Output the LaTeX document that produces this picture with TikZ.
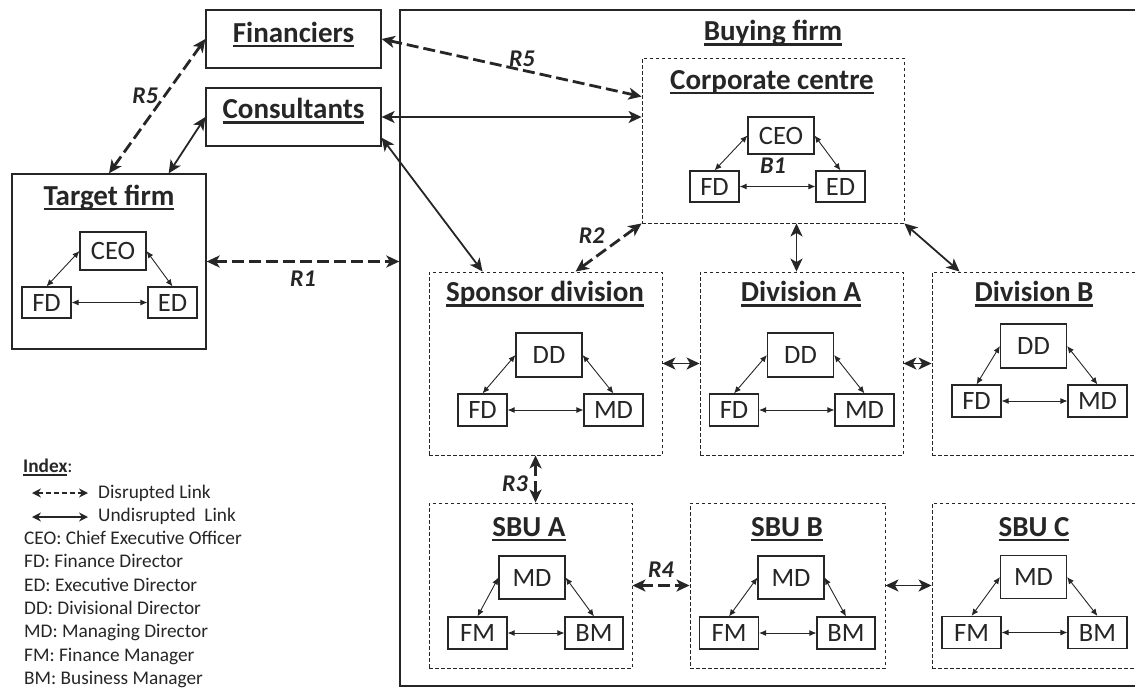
\documentclass[tikz,border=0pt]{standalone}
\usepackage{fontspec}
\setmainfont{Carlito}
\usetikzlibrary{arrows.meta, positioning, calc}
\newsavebox{\ulbox}
\newcommand{\uline}[2][5pt]{\sbox{\ulbox}{#2}\rlap{\rule[-#1]{\wd\ulbox}{0.075em}}\usebox{\ulbox}}

\begin{document}
\begin{tikzpicture}[
    x=1pt, y=-1pt, color=black!85,
    firmbox/.style={rectangle, draw, line width=1.3pt, inner sep=0pt},
    unitbox/.style={rectangle, draw, dash pattern=on 3.5pt off 2.5pt, line width=0.9pt, inner sep=0pt},
    heading/.style={font=\fontsize{29}{34}\selectfont\bfseries, inner sep=0pt},
    rolebox/.style={rectangle, draw, line width=1.1pt, fill=white, minimum width=49pt, minimum height=31pt, inner sep=0pt, font=\fontsize{26.5}{30}\selectfont},
    widebox/.style={rolebox, minimum width=59pt, minimum height=32pt},
    topbox/.style={rolebox, minimum width=66pt, minimum height=43pt},
    tie/.style={<->, >={Latex[length=7pt, width=6pt]}, line width=0.9pt},
    link/.style={<->, >={Stealth[length=13pt, width=12pt, inset=3.5pt]}, line width=1.8pt},
    brokenlink/.style={link, line width=2.8pt, dash pattern=on 12pt off 5pt},
    rlabel/.style={font=\fontsize{24}{28}\selectfont\bfseries\itshape},
    indextext/.style={font=\fontsize{19.3}{23.3}\selectfont, align=left, inner sep=0pt}
]
\useasboundingbox (0,0) rectangle (1135,688);
\clip (0,0) rectangle (1135,688);

% Outside parties
\node[firmbox, minimum width=175pt, minimum height=58pt] (fin) at (293.5,39) {};
\node[heading, anchor=base] (finT) at (293.5,42) {\uline{Financiers}};
\node[firmbox, minimum width=175pt, minimum height=58pt] (cons) at (293.5,117) {};
\node[heading, anchor=base] (consT) at (293.5,118.5) {\uline{Consultants}};

% Target firm
\node[firmbox, minimum width=194pt, minimum height=175pt] (tgt) at (109,261.5) {};
\node[heading, anchor=base] (tgtT) at (109,205) {\uline{Target firm}};
\node[topbox, minimum height=38pt] (tCEO) at (113,251) {CEO};
\node[rolebox] (tFD) at (46.5,302.5) {FD};
\node[rolebox] (tED) at (172.5,302.5) {ED};
\draw[tie] (tCEO.west) -- (tFD.north);
\draw[tie] (tCEO.east) -- (tED.north);
\draw[tie] (tFD) -- (tED);

% Buying firm
\node[firmbox, minimum width=745pt, minimum height=676pt] (buy) at (772.5,348) {};
\node[heading, anchor=base] (buyT) at (773,40.5) {\uline{Buying firm}};

% Corporate centre
\node[unitbox, minimum width=262pt, minimum height=165pt] (cc) at (773,140.5) {};
\node[heading, anchor=base] (ccT) at (772,89) {\uline{Corporate centre}};
\node[topbox, minimum height=37pt] (cCEO) at (781,135.5) {CEO};
\node[rolebox] (cFD) at (714.5,186.5) {FD};
\node[rolebox] (cED) at (840.5,186.5) {ED};
\draw[tie] (cCEO.west) -- (cFD.north);
\draw[tie] (cCEO.east) -- (cED.north);
\draw[tie] (cFD) -- (cED);
\node[rlabel] (b1) at (773,166) {B1};

% Divisions
\node[unitbox, minimum width=233pt, minimum height=183pt] (sp) at (545.5,363.5) {};
\node[heading, anchor=base] (spT) at (545,301.5) {\uline{Sponsor division}};
\node[topbox, minimum height=44pt] (sDD) at (549,355) {DD};
\node[rolebox, minimum height=32pt] (sFD) at (482.5,410) {FD};
\node[widebox] (sMD) at (613.5,410) {MD};
\draw[tie] (sDD.west) -- (sFD.north);
\draw[tie] (sDD.east) -- (sMD.north);
\draw[tie] (sFD) -- (sMD);

\node[unitbox, minimum width=203pt, minimum height=183pt] (dA) at (801.5,363.5) {};
\node[heading, anchor=base] (dAT) at (801,301.5) {\uline{Division A}};
\node[topbox, minimum height=44pt] (aDD) at (800.5,355) {DD};
\node[rolebox, minimum height=32pt] (aFD) at (734,410) {FD};
\node[widebox] (aMD) at (864.5,410) {MD};
\draw[tie] (aDD.west) -- (aFD.north);
\draw[tie] (aDD.east) -- (aMD.north);
\draw[tie] (aFD) -- (aMD);

\node[unitbox, minimum width=208pt, minimum height=183pt] (dB) at (1036,363.5) {};
\node[heading, anchor=base] (dBT) at (1034,301.5) {\uline{Division B}};
\node[topbox, minimum height=44pt] (bDD) at (1033.5,346) {DD};
\node[rolebox, minimum height=32pt] (bFD) at (976.5,401) {FD};
\node[widebox] (bMD) at (1097.5,401) {MD};
\draw[tie] (bDD.west) -- (bFD.north);
\draw[tie] (bDD.east) -- (bMD.north);
\draw[tie] (bFD) -- (bMD);

% SBUs
\node[unitbox, minimum width=203pt, minimum height=165pt] (sbuA) at (530.5,585.5) {};
\node[heading, anchor=base] (sbuAT) at (529,536) {\uline{SBU A}};
\node[topbox] (uaMD) at (532,577.5) {MD};
\node[widebox] (uaFM) at (477.5,633) {FM};
\node[widebox, minimum width=58pt] (uaBM) at (594,633) {BM};
\draw[tie] (uaMD.west) -- (uaFM.north);
\draw[tie] (uaMD.east) -- (uaBM.north);
\draw[tie] (uaFM) -- (uaBM);

\node[unitbox, minimum width=195pt, minimum height=165pt] (sbuB) at (787.5,585.5) {};
\node[heading, anchor=base] (sbuBT) at (787,536) {\uline{SBU B}};
\node[topbox] (ubMD) at (791,577.5) {MD};
\node[widebox] (ubFM) at (729,633) {FM};
\node[widebox, minimum width=58pt] (ubBM) at (846,633) {BM};
\draw[tie] (ubMD.west) -- (ubFM.north);
\draw[tie] (ubMD.east) -- (ubBM.north);
\draw[tie] (ubFM) -- (ubBM);

\node[unitbox, minimum width=208pt, minimum height=165pt] (sbuC) at (1036,585.5) {};
\node[heading, anchor=base] (sbuCT) at (1034,536) {\uline{SBU C}};
\node[topbox] (ucMD) at (1033.5,577) {MD};
\node[widebox] (ucFM) at (971.5,632.5) {FM};
\node[widebox] (ucBM) at (1097.5,632.5) {BM};
\draw[tie] (ucMD.west) -- (ucFM.north);
\draw[tie] (ucMD.east) -- (ucBM.north);
\draw[tie] (ucFM) -- (ucBM);

% Links to outside parties
\draw[brokenlink] (tgt.north) -- node[pos=0.58, left=2pt, rlabel] {R5} (fin.west);
\draw[link] ([xshift=-38pt]tgt.north east) -- (cons.west);
\draw[brokenlink] (tgt.east) -- node[below=5pt, rlabel] {R1} (tgt.east -| buy.west);
\draw[brokenlink] (fin.east) -- node[pos=0.54, above=-1pt, rlabel] {R5} ($(cc.north west)+(0,39)$);
\draw[link] (cons.east) -- (cons.east -| cc.west);
\draw[link] ($(cons.east)!0.7!(cons.south east)$) -- ($(sp.north west)+(54,0)$);

% Links inside buying firm
\draw[brokenlink] ($(sp.north west)+(147,0)$) -- node[pos=0.5, above left=-1pt, rlabel] {R2} (cc.south west);
\draw[link] ([xshift=-5pt]dA.north |- cc.south) -- ([xshift=-5pt]dA.north);
\draw[link] (cc.south east) -- ($(dB.north west)+(28,0)$);
\draw[link] (sp.east) -- (dA.west);
\draw[link] (dA.east) -- (dB.west);
\draw[brokenlink] ($(sp.south west)+(107,0)$) -- node[pos=0.6, left=3pt, rlabel] {R3} ($(sbuA.north west)+(107,0)$);
\draw[brokenlink] (sbuA.east) -- node[above=3pt, rlabel] {R4} (sbuB.west);
\draw[link] (sbuB.east) -- (sbuC.west);

% Index
\node[indextext, anchor=base west] (idx) at (23,472) {\uline[3.5pt]{\bfseries Index}:};
\coordinate (dis0) at (32,493);
\coordinate (dis1) at (88,493);
\coordinate (und0) at (32,517);
\coordinate (und1) at (88,517);
\draw[<->, >={Stealth[length=9pt, width=9pt]}, line width=1.4pt, dash pattern=on 5pt off 3pt] (dis0) -- (dis1);
\draw[<->, >={Stealth[length=9pt, width=9pt]}, line width=1.4pt] (und0) -- (und1);
\node[indextext, anchor=base west] (disT) at (98,498) {Disrupted Link};
\node[indextext, anchor=base west] (undT) at (98,521.5) {Undisrupted~~Link};
\node[indextext, anchor=north west] (defs) at (24,531) {CEO: Chief Executive Officer\\FD: Finance Director\\ED: Executive Director\\DD: Divisional Director\\MD: Managing Director\\FM: Finance Manager\\BM: Business Manager};

\end{tikzpicture}
\end{document}
